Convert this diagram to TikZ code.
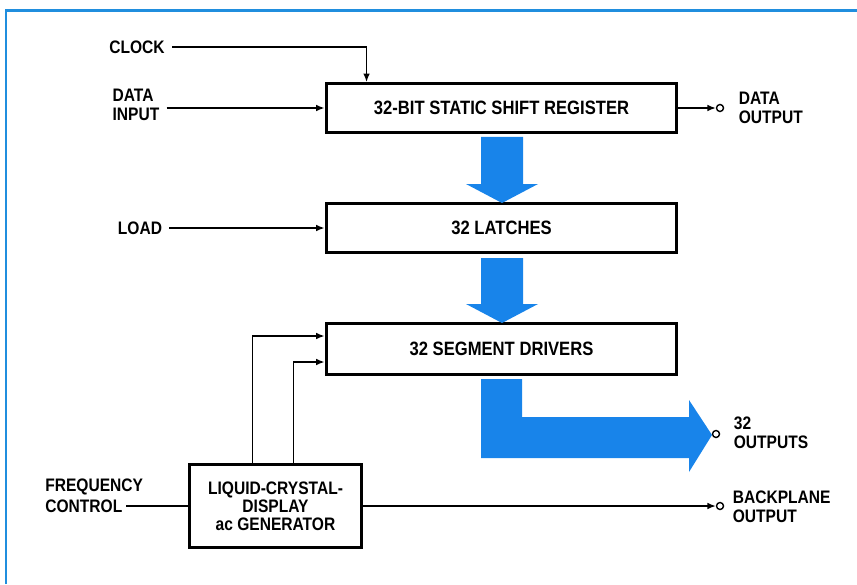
\documentclass[tikz,border=0pt]{standalone}
\usepackage{fontspec}
\setmainfont{Liberation Sans}[FakeStretch=0.86]
\usepackage{tikz}
\usetikzlibrary{arrows.meta,calc,positioning}
\definecolor{BusBlue}{RGB}{24,132,234}
\definecolor{FrameBlue}{RGB}{32,142,222}

\begin{document}
\begin{tikzpicture}[x=0.02cm,y=-0.02cm,>={Latex[length=4.8pt,width=3.8pt]},
  block/.style={draw,line width=1.7pt,fill=white,minimum width=7.02cm,minimum height=0.98cm,
    font=\fontsize{11}{11.5}\bfseries\selectfont},
  lbl/.style={inner xsep=4pt,inner ysep=1pt,align=left,font=\fontsize{10.3}{10.8}\bfseries\selectfont},
  port/.style={circle,draw,line width=0.8pt,fill=white,inner sep=0pt,minimum size=0.14cm},
  sig/.style={line width=0.8pt},
  bus/.style={fill=BusBlue}]
  \useasboundingbox (0,0) rectangle (857,584);
  % frame
  \draw[FrameBlue,line width=0.06cm] (6,584) -- (6,11) -- (857,11);

  % blocks
  \node[block] (reg) at (501.5,108) {32-BIT STATIC SHIFT REGISTER};
  \node[block] (latch) at (501.5,228) {32 LATCHES};
  \node[block,minimum height=1.02cm] (drv) at (501.5,349) {32 SEGMENT DRIVERS};
  \node[block,align=center,minimum width=3.46cm,minimum height=1.66cm,
    font=\fontsize{10.3}{10.2}\bfseries\selectfont] (gen) at (275.5,506)
    {LIQUID-CRYSTAL-\\DISPLAY\\ac GENERATOR};

  % inputs
  \node[lbl] (clk) at (137,47) {CLOCK};
  \node[lbl] (din) at (136,105) {DATA\\INPUT};
  \node[lbl] (load) at (140,228) {LOAD};
  \node[lbl,anchor=west,inner xsep=0pt] (freq) at (45,487) {FREQUENCY};
  \node[lbl,anchor=west,inner xsep=0pt] (ctl) at (45,506) {CONTROL};
  \draw[sig,->] (clk) -| ($(reg.north west)+(42,0)$);
  \draw[sig,->] (din.east |- reg.west) -- (reg);
  \draw[sig,->] (load) -- (latch);
  \draw[sig] ([xshift=2pt]ctl.east) -- (gen);
  \draw[sig,->] ($(gen.north west)+(65,0)$) |- ($(drv.west)+(0,-13)$);
  \draw[sig,->] ($(gen.north west)+(106,0)$) |- ($(drv.west)+(0,13)$);

  % outputs
  \node[port] (dout) at (720,108) {};
  \node[port] (segout) at (716,434) {};
  \node[port] (bpout) at (720,506) {};
  \node[lbl,anchor=west,inner xsep=2pt] (doutlbl) at (735,108) {DATA\\OUTPUT};
  \node[lbl,anchor=west,inner xsep=2pt] (segoutlbl) at (730,433) {32\\OUTPUTS};
  \node[lbl,anchor=west,inner xsep=2pt] (bpoutlbl) at (729,507) {BACKPLANE\\OUTPUT};
  \draw[sig,->] (reg) -- (dout);
  \draw[sig,->] (gen) -- (bpout);

  % 32-bit buses
  \foreach \ya/\yb in {137/203,258/323}
    \fill[bus] (481,\ya) -- (523,\ya) -- (523,\yb-19) -- (538,\yb-19) -- (502,\yb)
      -- (466,\yb-19) -- (481,\yb-19) -- cycle;
  \fill[bus] (481,379) -- (522,379) -- (522,417) -- (689,417) -- (689,400) -- (712,435)
    -- (689,472) -- (689,458) -- (481,458) -- cycle;
\end{tikzpicture}
\end{document}
